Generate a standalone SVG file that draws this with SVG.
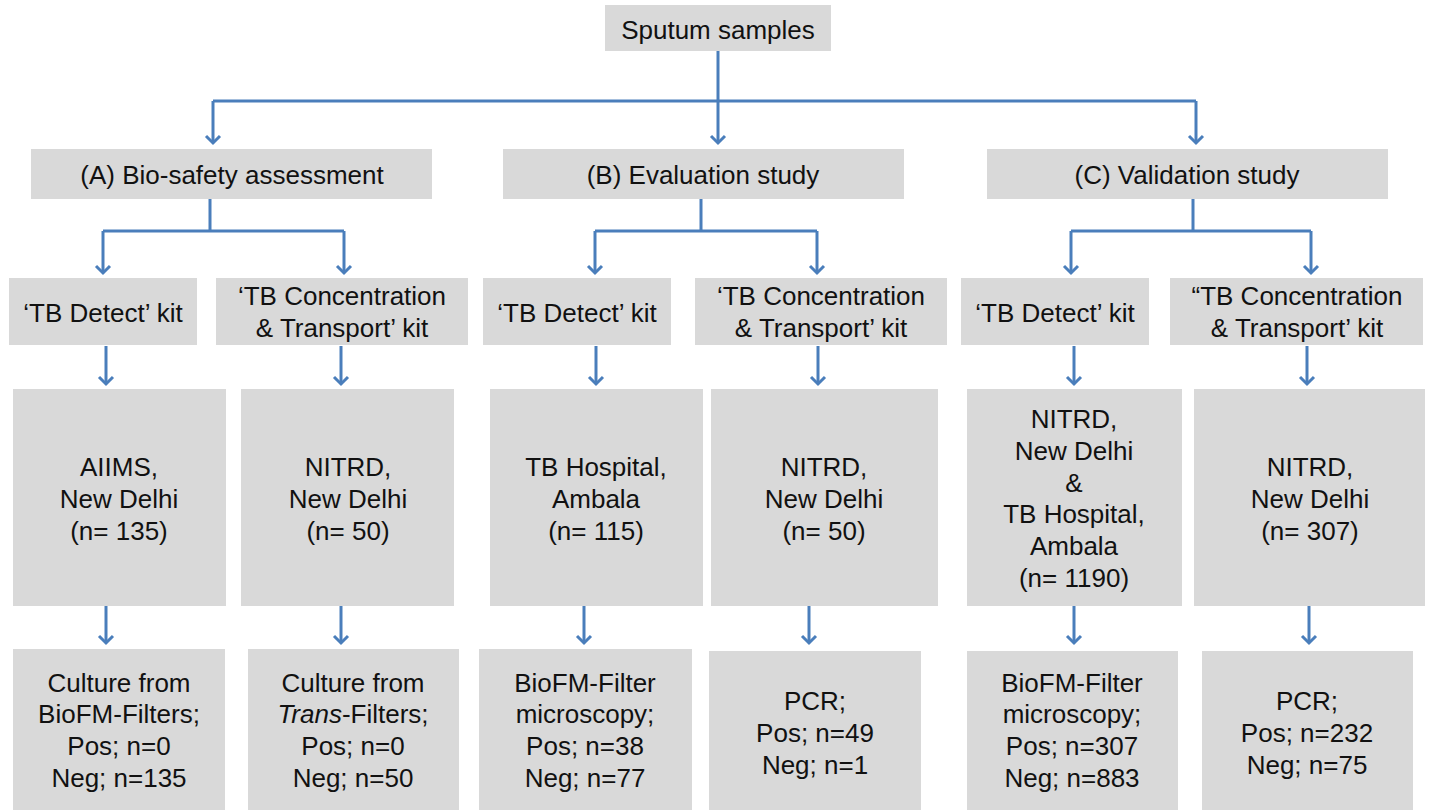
<svg xmlns="http://www.w3.org/2000/svg" width="1429" height="810" viewBox="0 0 1429 810">
<defs>
<marker id="arr" markerUnits="userSpaceOnUse" markerWidth="20" markerHeight="20" viewBox="-10 -10 20 20" refX="0" refY="0" orient="auto" overflow="visible">
<path d="M-7,-7 L0,0 L-7,7" fill="none" stroke="#4a7ebb" stroke-width="3"/>
</marker>
</defs>
<style>
.box{fill:#d9d9d9}
text{font-family:"Liberation Sans",Arial,sans-serif;font-size:26px;fill:#111;text-anchor:middle}
.c{fill:none;stroke:#4a7ebb;stroke-width:3}
.a{marker-end:url(#arr)}
</style>
<rect width="1429" height="810" fill="#fff"/>
<g id="connectors">
<path class="c" d="M213,101 H1196"/>
<path class="c a" d="M718,51 V143"/>
<path class="c a" d="M213,101 V143"/>
<path class="c a" d="M1196,101 V143"/>
<path class="c" d="M210,199 V231 M103,231 H344"/>
<path class="c a" d="M103,231 V273"/>
<path class="c a" d="M344,231 V273"/>
<path class="c" d="M701,199 V231 M595,231 H817"/>
<path class="c a" d="M595,231 V273"/>
<path class="c a" d="M817,231 V273"/>
<path class="c" d="M1193,199 V231 M1071,231 H1311"/>
<path class="c a" d="M1071,231 V273"/>
<path class="c a" d="M1311,231 V273"/>
<path class="c a" d="M106,346 V384"/>
<path class="c a" d="M341,346 V384"/>
<path class="c a" d="M596,346 V384"/>
<path class="c a" d="M818,346 V384"/>
<path class="c a" d="M1074,346 V384"/>
<path class="c a" d="M1307,346 V384"/>
<path class="c a" d="M106,606 V643"/>
<path class="c a" d="M341,606 V643"/>
<path class="c a" d="M584,606 V643"/>
<path class="c a" d="M809,606 V643"/>
<path class="c a" d="M1074,606 V643"/>
<path class="c a" d="M1309,606 V643"/>
</g>
<g id="sputum"><rect class="box" x="605" y="5" width="226" height="46"/><text x="718" y="39">Sputum samples</text></g>
<g id="A"><rect class="box" x="31" y="149" width="401" height="50"/><text x="232" y="184">(A) Bio-safety assessment</text></g>
<g id="B"><rect class="box" x="503" y="149" width="401" height="50"/><text x="703" y="184">(B) Evaluation study</text></g>
<g id="C"><rect class="box" x="987" y="149" width="401" height="50"/><text x="1187" y="184">(C) Validation study</text></g>

<g id="A1"><rect class="box" x="9" y="278" width="188" height="67"/><text x="103" y="322">‘TB Detect’ kit</text></g>
<g id="A2"><rect class="box" x="216" y="278" width="252" height="67"/><text x="342" y="305">‘TB Concentration</text><text x="342" y="337">&amp; Transport’ kit</text></g>
<g id="B1"><rect class="box" x="483" y="278" width="188" height="67"/><text x="577" y="322">‘TB Detect’ kit</text></g>
<g id="B2"><rect class="box" x="695" y="278" width="252" height="67"/><text x="821" y="305">‘TB Concentration</text><text x="821" y="337">&amp; Transport’ kit</text></g>
<g id="C1"><rect class="box" x="961" y="278" width="188" height="67"/><text x="1055" y="322">‘TB Detect’ kit</text></g>
<g id="C2"><rect class="box" x="1170" y="278" width="253" height="67"/><text x="1297" y="305">“TB Concentration</text><text x="1297" y="337">&amp; Transport’ kit</text></g>

<g id="A1site"><rect class="box" x="13" y="389" width="213" height="217"/><text x="119" y="476">AIIMS,</text><text x="119" y="508">New Delhi</text><text x="119" y="540">(n= 135)</text></g>
<g id="A2site"><rect class="box" x="241" y="389" width="213" height="217"/><text x="348" y="476">NITRD,</text><text x="348" y="508">New Delhi</text><text x="348" y="540">(n= 50)</text></g>
<g id="B1site"><rect class="box" x="490" y="389" width="213" height="217"/><text x="596" y="476">TB Hospital,</text><text x="596" y="508">Ambala</text><text x="596" y="540">(n= 115)</text></g>
<g id="B2site"><rect class="box" x="711" y="389" width="227" height="217"/><text x="824" y="476">NITRD,</text><text x="824" y="508">New Delhi</text><text x="824" y="540">(n= 50)</text></g>
<g id="C1site"><rect class="box" x="967" y="389" width="215" height="217"/><text x="1074" y="428">NITRD,</text><text x="1074" y="460">New Delhi</text><text x="1074" y="492">&amp;</text><text x="1074" y="523">TB Hospital,</text><text x="1074" y="555">Ambala</text><text x="1074" y="587">(n= 1190)</text></g>
<g id="C2site"><rect class="box" x="1194" y="389" width="231" height="217"/><text x="1310" y="476">NITRD,</text><text x="1310" y="508">New Delhi</text><text x="1310" y="540">(n= 307)</text></g>

<g id="A1res"><rect class="box" x="13" y="649" width="212" height="161"/><text x="119" y="692">Culture from</text><text x="119" y="723">BioFM-Filters;</text><text x="119" y="755">Pos; n=0</text><text x="119" y="787">Neg; n=135</text></g>
<g id="A2res"><rect class="box" x="248" y="649" width="211" height="161"/><text x="353" y="692">Culture from</text><text x="353" y="723"><tspan font-style="italic">Trans</tspan>-Filters;</text><text x="353" y="755">Pos; n=0</text><text x="353" y="787">Neg; n=50</text></g>
<g id="B1res"><rect class="box" x="479" y="649" width="213" height="161"/><text x="585" y="692">BioFM-Filter</text><text x="585" y="723">microscopy;</text><text x="585" y="755">Pos; n=38</text><text x="585" y="787">Neg; n=77</text></g>
<g id="B2res"><rect class="box" x="709" y="651" width="212" height="159"/><text x="815" y="710">PCR;</text><text x="815" y="742">Pos; n=49</text><text x="815" y="774">Neg; n=1</text></g>
<g id="C1res"><rect class="box" x="967" y="651" width="211" height="159"/><text x="1072" y="692">BioFM-Filter</text><text x="1072" y="723">microscopy;</text><text x="1072" y="755">Pos; n=307</text><text x="1072" y="787">Neg; n=883</text></g>
<g id="C2res"><rect class="box" x="1202" y="651" width="211" height="159"/><text x="1307" y="710">PCR;</text><text x="1307" y="742">Pos; n=232</text><text x="1307" y="774">Neg; n=75</text></g>
</svg>
